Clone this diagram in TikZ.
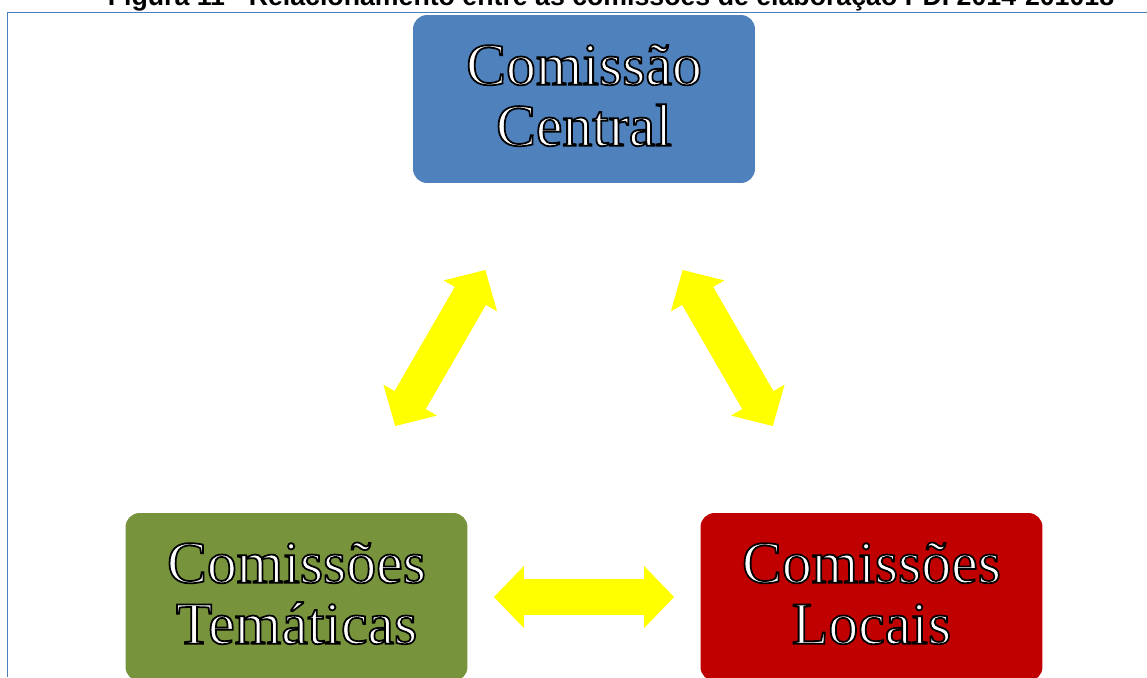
\documentclass[tikz,border=0pt]{standalone}
\usepackage{fontspec}
\setmainfont{Liberation Sans}
\newfontfamily\boxfont{Liberation Serif}
\usetikzlibrary{arrows.meta}
\definecolor{cblue}{HTML}{4F81BD}
\definecolor{cgreen}{HTML}{77933C}
\definecolor{cred}{HTML}{C00000}
\definecolor{cframe}{HTML}{4A7EBB}
\definecolor{cyel}{HTML}{FFFF00}
\newcommand\outl[1]{\special{pdf:literal direct 2 Tr 1.0 w 0 0 0 RG}#1\special{pdf:literal direct 0 Tr}}
\begin{document}
\begin{tikzpicture}[x=0.02cm,y=-0.02cm,
  box/.style={rounded corners=0.28cm, minimum width=6.84cm, minimum height=3.36cm,
    inner sep=0pt, align=center, text=white, text depth=4.5pt,
    font=\boxfont\fontsize{34}{34.7}\selectfont},
  link/.style={line width=0.72cm, cyel,
    {Triangle[width=1.2cm,length=0.6cm]}-{Triangle[width=1.2cm,length=0.6cm]}},
  caption/.style={anchor=base, font=\bfseries\fontsize{15.2}{17}\selectfont}]
\useasboundingbox (0,0) rectangle (1147,677);
\node[caption] (title) at (611,5.5) {Figura 11 - Relacionamento entre as comissões de elaboração PDI 2014-201018};
\draw[cframe, line width=0.9pt] (7.3,677) -- (7.3,12.3) -- (1147,12.3);
\node[box, fill=cblue] (central) at (584,99) {\outl{Comissão}\\\outl{Central}};
\node[box, fill=cgreen] (tematicas) at (296.5,597) {\outl{Comissões}\\\outl{Temáticas}};
\node[box, fill=cred] (locais) at (871.5,597) {\outl{Comissões}\\\outl{Locais}};
\draw[link, shorten <=2cm, shorten >=2cm] (central) -- (tematicas);
\draw[link, shorten <=2cm, shorten >=2cm] (central) -- (locais);
\draw[link, shorten <=0.52cm, shorten >=0.52cm] (tematicas) -- (locais);
\end{tikzpicture}
\end{document}
